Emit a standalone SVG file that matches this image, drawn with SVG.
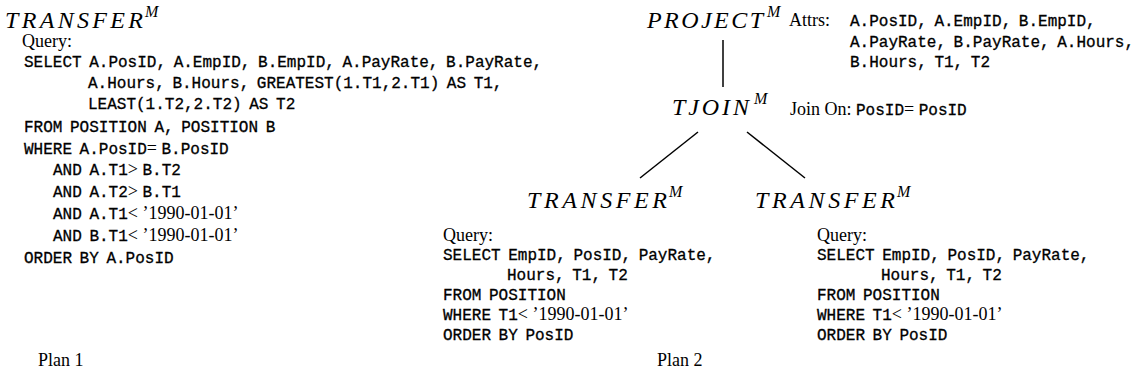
<svg xmlns="http://www.w3.org/2000/svg" width="1146" height="384" viewBox="0 0 1146 384">
  <style>
    text { fill: #000; }
    .op { font-family: "Liberation Serif", "Times New Roman", serif; font-style: italic; font-size: 24px; }
    .sup { font-family: "Liberation Serif", "Times New Roman", serif; font-style: italic; font-size: 16px; }
    .rm { font-family: "Liberation Serif", "Times New Roman", serif; font-size: 18px; }
    .tt { font-family: "Liberation Mono", "Courier New", monospace; font-size: 16px; word-spacing: -2px; stroke: #000; stroke-width: 0.3; }
    .edge { stroke: #000; stroke-width: 1.5; fill: none; }
  </style>
  <rect width="1146" height="384" fill="#fff"/>

  <!-- Plan 1: single transfer operator -->
  <g id="plan1-transfer">
    <text class="op" x="5" y="28" textLength="138" lengthAdjust="spacing">TRANSFER</text>
    <text class="sup" x="145" y="17">M</text>
    <text class="rm" x="22" y="47">Query:</text>
    <text class="tt" x="24" y="67">SELECT A.PosID, A.EmpID, B.EmpID, A.PayRate, B.PayRate,</text>
    <text class="tt" x="88" y="88">A.Hours, B.Hours, GREATEST(1.T1,2.T1) AS T1,</text>
    <text class="tt" x="88" y="109">LEAST(1.T2,2.T2) AS T2</text>
    <text class="tt" x="24" y="132">FROM POSITION A, POSITION B</text>
    <text x="24" y="154"><tspan class="tt">WHERE A.PosID</tspan><tspan class="rm">= </tspan><tspan class="tt">B.PosID</tspan></text>
    <text x="53" y="175"><tspan class="tt">AND A.T1</tspan><tspan class="rm">&gt; </tspan><tspan class="tt">B.T2</tspan></text>
    <text x="53" y="197"><tspan class="tt">AND A.T2</tspan><tspan class="rm">&gt; </tspan><tspan class="tt">B.T1</tspan></text>
    <text x="53" y="219"><tspan class="tt">AND A.T1</tspan><tspan class="rm">&lt; ’1990-01-01’</tspan></text>
    <text x="53" y="241"><tspan class="tt">AND B.T1</tspan><tspan class="rm">&lt; ’1990-01-01’</tspan></text>
    <text class="tt" x="24" y="263">ORDER BY A.PosID</text>
  </g>
  <g id="plan1-label">
    <text class="rm" x="38" y="366">Plan 1</text>
  </g>

  <!-- Plan 2: project over a temporal join of two transfers -->
  <g id="plan2-project">
    <text class="op" x="647" y="28" textLength="116" lengthAdjust="spacing">PROJECT</text>
    <text class="sup" x="767" y="17">M</text>
    <text class="rm" x="789" y="26">Attrs:</text>
    <text class="tt" x="850" y="26">A.PosID, A.EmpID, B.EmpID,</text>
    <text class="tt" x="850" y="47">A.PayRate, B.PayRate, A.Hours,</text>
    <text class="tt" x="850" y="67">B.Hours, T1, T2</text>
  </g>

  <g id="plan2-tjoin">
    <text class="op" x="672" y="115" textLength="77" lengthAdjust="spacing">TJOIN</text>
    <text class="sup" x="754" y="104">M</text>
    <text x="790" y="115"><tspan class="rm">Join On: </tspan><tspan class="tt">PosID</tspan><tspan class="rm">= </tspan><tspan class="tt">PosID</tspan></text>
  </g>

  <g id="plan2-transfer-a">
    <text class="op" x="527" y="208" textLength="140" lengthAdjust="spacing">TRANSFER</text>
    <text class="sup" x="669" y="197">M</text>
    <text class="rm" x="443" y="241">Query:</text>
    <text class="tt" x="443" y="260">SELECT EmpID, PosID, PayRate,</text>
    <text class="tt" x="507" y="280">Hours, T1, T2</text>
    <text class="tt" x="443" y="300">FROM POSITION</text>
    <text x="443" y="320"><tspan class="tt">WHERE T1</tspan><tspan class="rm">&lt; ’1990-01-01’</tspan></text>
    <text class="tt" x="443" y="340">ORDER BY PosID</text>
  </g>

  <g id="plan2-transfer-b">
    <text class="op" x="755" y="208" textLength="140" lengthAdjust="spacing">TRANSFER</text>
    <text class="sup" x="897" y="197">M</text>
    <text class="rm" x="817" y="241">Query:</text>
    <text class="tt" x="817" y="260">SELECT EmpID, PosID, PayRate,</text>
    <text class="tt" x="881" y="280">Hours, T1, T2</text>
    <text class="tt" x="817" y="300">FROM POSITION</text>
    <text x="817" y="320"><tspan class="tt">WHERE T1</tspan><tspan class="rm">&lt; ’1990-01-01’</tspan></text>
    <text class="tt" x="817" y="340">ORDER BY PosID</text>
  </g>

  <g id="plan2-label">
    <text class="rm" x="657" y="366">Plan 2</text>
  </g>

  <!-- tree edges -->
  <g id="connectors">
    <line class="edge" x1="723" y1="40" x2="723" y2="87"/>
    <line class="edge" x1="698" y1="132" x2="640" y2="178"/>
    <line class="edge" x1="747" y1="132" x2="805" y2="178"/>
  </g>
</svg>
